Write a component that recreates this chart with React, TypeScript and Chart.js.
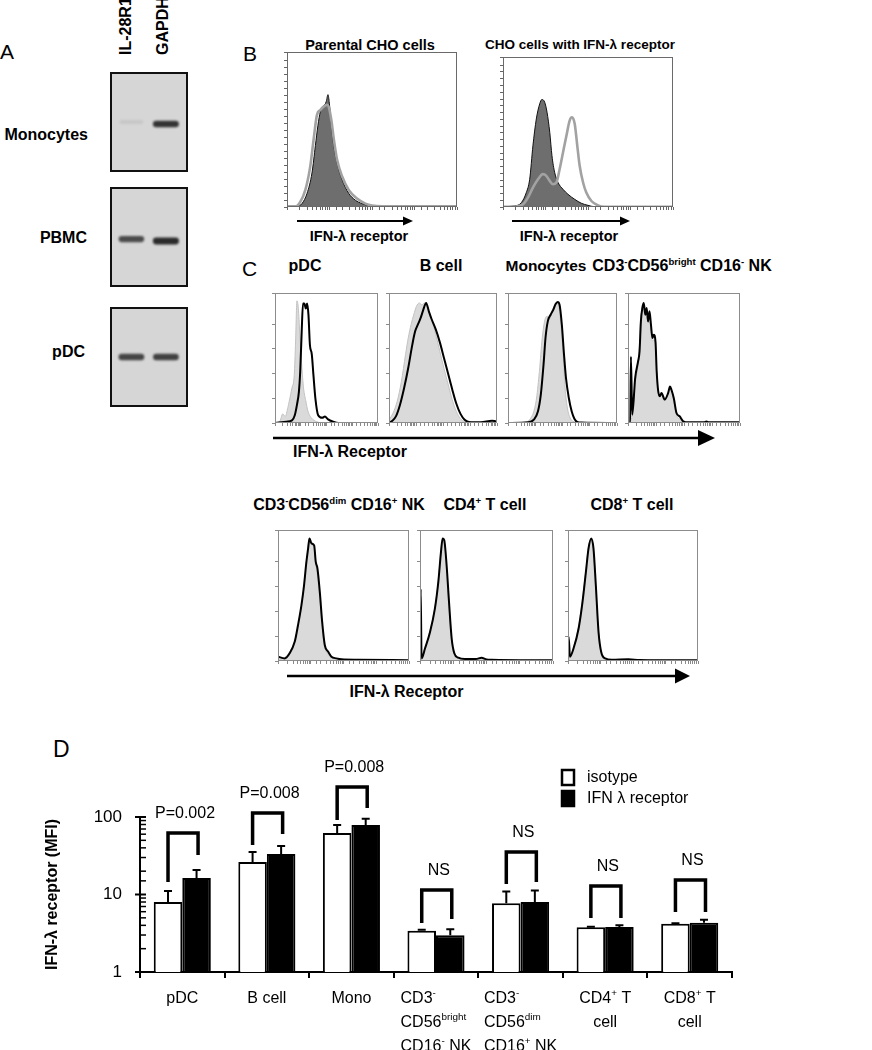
import React, { useEffect, useRef } from "react";
import { Chart, registerables } from "chart.js";
Chart.register(...registerables);

const FONT = 'Arial, "Liberation Sans", Helvetica, sans-serif';
type Pt = [number, number];

// ---------------- Panel A: gel ----------------
const gelSamples = ["Monocytes", "PBMC", "pDC"];
const gelLanes = ["IL-28R1", "GAPDH"];
const gelBandMigration = [[50, 52], [52, 54], [50, 50]];
const gelBandIntensity = [[0.08, 0.88], [0.75, 0.92], [0.78, 0.8]];

// ---------------- Panel B: CHO histograms (x: % of log channel range, y: % of max) ----------------
const parentalIsotype: Pt[] = [[0,0.4],[5.9,0.4],[8.8,2.2],[11.8,8.8],[14.7,22],[16.7,39.6],[18.2,52.7],[19.6,61.5],[21,64.8],[22.2,65.9],[23.1,68.1],[24.1,72.5],[24.9,67],[26.1,52.7],[27.5,39.6],[29.4,28.6],[32.4,17.6],[36.3,8.8],[40.2,4.4],[44.1,2.2],[48,0.9],[55.9,0.4],[100,0.4]];
const parentalReceptor: Pt[] = [[0,0.4],[4.9,0.4],[7.8,3.3],[10.8,11],[13.7,26.4],[15.7,44],[17.6,59.3],[19.6,62.6],[21.6,64.8],[23.5,65.9],[24.5,64.8],[26.1,56],[27.5,44],[29.4,30.8],[32.4,19.8],[36.3,11],[41.2,5.5],[46.1,2.2],[50,0.9],[55.9,0.4],[100,0.4]];
const transfectedIsotype: Pt[] = [[0,0.2],[6.9,0.7],[10.8,2.9],[13.7,9.6],[15.7,18.5],[17.6,40.8],[19.6,58.7],[21.6,68.8],[22.9,71.7],[24.5,69.9],[25.9,63.2],[27.5,49.8],[28.8,34.2],[30.4,23],[32.4,16.3],[35.3,11.8],[38.2,8.5],[42.2,5.1],[46.1,2.5],[50,1.1],[53.9,0.2],[100,0.2]];
const transfectedReceptor: Pt[] = [[0,0.2],[6.9,0.2],[11.8,1.8],[14.7,6.3],[17.6,12.9],[20.6,18.5],[23.5,21.9],[25.5,20.8],[27.5,17.4],[29.4,15.2],[31.4,16.3],[33.3,25.2],[35.3,36.4],[37.3,47.5],[39.2,57.6],[40.6,59.8],[42.2,55.4],[43.7,40.8],[45.1,27.5],[47.1,16.3],[49,9.6],[52,4],[55.9,1.1],[59.8,0.2],[100,0.2]];

// ---------------- Panel C: PBMC subsets ----------------
const pdcIsotype: Pt[] = [[0,0],[4.5,1],[7.5,7],[9.9,5],[12.5,12],[15.2,22],[16.5,27],[18.7,37],[20,63],[21.3,94],[22.7,88],[24,70],[25.9,45],[27.7,27],[29.9,17],[32,9],[35.2,4],[40.5,1],[48.5,0],[100,0]];
const pdcReceptor: Pt[] = [[0,0],[11.2,1],[16.5,2],[19.2,6],[21.3,14],[23.2,24],[24.5,40],[25.9,70],[27.2,92],[28.5,92],[29.9,88],[31.2,92],[32.5,83],[33.9,60],[35.7,53],[37.3,37],[39.2,19],[41.9,6],[45.9,4],[48.5,5],[51.2,3],[56.5,1],[61.9,0],[100,0]];
const bcellIsotype: Pt[] = [[0,2.5],[3.8,7.7],[7.6,16.7],[11.5,32],[15.3,52.6],[17.8,65.4],[20.4,75.6],[22.9,83.3],[25.4,89.7],[28,92.3],[30.5,91],[33.1,92.3],[35.6,88.5],[39.4,80],[43.3,68],[47.1,55],[50.9,42],[54.7,30],[58.5,18],[62.3,9],[66,3.5],[70,1],[75,0.5],[100,0.3]];
const bcellReceptor: Pt[] = [[0,0],[2.5,1.3],[6.4,5.1],[10.2,14.1],[14,26.9],[17.8,42.3],[21.6,60.3],[24.2,70.5],[26.7,75.6],[29.3,80.8],[31.8,87.2],[34.4,92.3],[36.9,85.9],[39.4,80],[43.3,72],[47.1,62],[50.9,50],[54.7,38],[58.5,26],[62.3,15],[66.2,7],[70,2.5],[74,0.8],[85,0.5],[95.4,1.8],[99.2,1.3],[100,0.5]];
const monoIsotype: Pt[] = [[0,0],[15.9,0.5],[19.8,2.6],[23.7,9],[26.2,19.2],[28.8,39.7],[31.4,65.4],[33.9,79.5],[36,82.1],[37.8,79.5],[40.4,85.9],[42.9,91],[44.7,92.3],[46.8,88.5],[48.8,73.1],[50.6,52.6],[52.4,26.9],[54.5,11.5],[57.1,3.8],[59.6,1.3],[64.8,0.3],[100,0]];
const monoReceptor: Pt[] = [[0,0],[18.5,0.5],[23.7,2.6],[27.5,9],[30.1,21.8],[32.6,44.9],[34.4,65.4],[36.5,78.2],[39.1,83.3],[41.6,87.2],[43.7,91.5],[45.5,93.1],[47.3,91],[49.4,75.6],[51.4,52.6],[53.2,34.6],[55.8,19.2],[58.4,9],[60.9,3.3],[63.5,0.8],[67.4,0.3],[100,0]];
const nkBrightIsotype: Pt[] = [[0,0],[2.6,2],[4,8],[6.4,30],[9,45],[10.3,60],[11.5,82],[12.8,86],[14.1,88],[15.4,84],[16.7,86],[17.9,80],[19.2,82],[20.5,72],[21.8,63],[23.1,64],[24.6,58],[25.6,38],[26.9,24],[28.4,21],[29.9,22],[32.8,19],[35.8,22],[37.5,26],[38.8,24],[40.9,17],[43.3,6],[46.3,3],[49.3,1],[53.7,0.3],[100,0.3]];
const nkBrightReceptor: Pt[] = [[0,0],[2,0],[2.6,51],[3.8,6.4],[6.4,34.6],[9,47.4],[10.3,55],[11.5,78],[12.8,88.5],[14.1,92.3],[15.4,83.3],[16.7,88.5],[17.9,78],[19.2,85.9],[20.5,75.6],[21.8,65.4],[23.1,67.9],[24.6,62],[25.6,40],[26.9,25],[28.4,20.5],[29.9,23],[32.8,18],[35.8,23],[37.5,28],[38.8,25.6],[40.9,19],[43.3,7.7],[46.3,5],[49.3,1.3],[53.7,0.5],[68,0.5],[70,1.2],[72,0.5],[100,0.5]];
const nkDimIsotype: Pt[] = [[0,1],[5.1,2.5],[8.9,7],[12.8,15],[15.3,27],[17.9,42],[19.9,57],[21.7,76],[23,88],[24,94],[25.5,91],[27.6,86],[28.8,74],[30.1,66],[31.9,48],[33.7,27],[35.7,11],[38.3,5],[40.8,2.5],[44.6,1.5],[48.5,1],[61.2,0.7],[100,0.3]];
const nkDimReceptor: Pt[] = [[0,3.3],[5.1,2],[8.9,5.9],[12.8,14.8],[15.3,27.5],[17.9,42.7],[19.9,58],[21.7,75.8],[23,86],[24,93.6],[25.5,89.8],[27.6,88.3],[28.8,75.8],[30.1,70.7],[31.9,52.9],[33.7,30],[35.7,12.2],[38.3,7.1],[40.8,3.3],[44.6,2],[48.5,1.3],[61.2,1],[100,0.5]];
const cd4Isotype: Pt[] = [[0,0],[0.5,50],[1.2,3],[3.8,10],[7.5,23],[11.2,41],[13.8,62],[15.8,85],[17,93],[18.2,91],[20,70],[21.8,42],[23.8,15],[25.8,5],[28.8,2],[33.8,1.2],[46.3,1.8],[53.8,0.8],[100,0.3]];
const cd4Receptor: Pt[] = [[0,0],[0.5,55],[1.2,2],[3.8,9.7],[7.5,22],[11.2,40],[13.8,60.6],[15.8,83.5],[17,93.6],[18.2,92.4],[20,73.3],[21.8,45.3],[23.8,17.3],[25.8,5.9],[28.8,2.5],[33.8,1.5],[42,1.5],[46.3,2.5],[50,1.2],[53.8,1],[100,0.5]];
const cd8Isotype: Pt[] = [[0,0],[0.5,17],[1.5,4],[4.3,10.5],[8.2,27],[11.2,48],[13.8,70],[15.8,88],[17.9,93],[19.6,84],[21.4,55],[23.5,20],[25.5,6],[28.6,1.8],[33.7,0.8],[46.4,1],[100,0.3]];
const cd8Receptor: Pt[] = [[0,0],[0.5,18.6],[1.5,3.3],[4.3,9.7],[8.2,25],[11.2,45.3],[13.8,68.2],[15.8,86],[17.9,93.6],[19.6,86],[21.4,58],[23.5,22.1],[25.5,7.1],[28.6,2],[33.7,1],[46.4,1.3],[55,0.8],[100,0.5]];

// ---------------- Panel D: MFI bar chart ----------------
const dCategoryLines = [["pDC"], ["B cell"], ["Mono"], ["CD3^{-}", "CD56^{bright}", "CD16^{-} NK"], ["CD3^{-}", "CD56^{dim}", "CD16^{+} NK"], ["CD4^{+} T", "cell"], ["CD8^{+} T", "cell"]];
const isotypeMFI = [8.0, 26.2, 62.0, 3.41, 7.7, 3.78, 4.2];
const isotypeUpper = [11.1, 35.4, 79.0, 3.5, 10.9, 3.85, 4.25];
const receptorMFI = [16.3, 33.2, 78.9, 2.97, 8.0, 3.8, 4.33];
const receptorUpper = [20.7, 42.4, 95.0, 3.55, 11.3, 4.0, 4.73];
const sigLabels = ["P=0.002", "P=0.008", "P=0.008", "NS", "NS", "NS", "NS"];
const bracketTop = [62.2, 112.6, 244, 11.4, 35.3, 12.9, 15.4];
const bracketLeftEnd = [14.5, 43.5, 91.5, 4.29, 13.7, 4.97, 5.95];
const bracketRightEnd = [32.3, 60.4, 130.7, 4.83, 14.5, 4.97, 5.95];
const yMajorTicks = [1, 10, 100];

// ---------------- helpers ----------------
function CanvasChart({ x, y, w, h, build }: any) {
  const ref = useRef<HTMLCanvasElement | null>(null);
  useEffect(() => {
    const chart = new Chart(ref.current as HTMLCanvasElement, build());
    return () => chart.destroy();
  }, []);
  return <canvas ref={ref} width={w} height={h} style={{ position: "absolute", left: x, top: y, width: w, height: h }} />;
}

function Txt({ x, y, size, bold, align = "center", children }: any) {
  const tx = align === "center" ? "-50%" : align === "right" ? "-100%" : "0";
  return (
    <div style={{ position: "absolute", left: x, top: y, transform: `translate(${tx}, -50%)`, fontSize: size, fontWeight: bold ? 700 : 400, lineHeight: 1, whiteSpace: "nowrap", color: "#000", fontFamily: FONT }}>
      {children}
    </div>
  );
}
const Sup = ({ children }: any) => <span style={{ fontSize: "0.6em", position: "relative", top: "-0.6em" }}>{children}</span>;

function parseRich(text: string) {
  const parts: { t: string; sup: boolean }[] = [];
  const re = /\^\{([^}]*)\}/g;
  let last = 0;
  let m: RegExpExecArray | null;
  while ((m = re.exec(text))) {
    if (m.index > last) parts.push({ t: text.slice(last, m.index), sup: false });
    parts.push({ t: m[1], sup: true });
    last = re.lastIndex;
  }
  if (last < text.length) parts.push({ t: text.slice(last), sup: false });
  return parts;
}
function richWidth(ctx: CanvasRenderingContext2D, text: string, size: number) {
  let w = 0;
  for (const p of parseRich(text)) {
    ctx.font = `${p.sup ? size * 0.62 : size}px ${FONT}`;
    w += ctx.measureText(p.t).width;
  }
  return w;
}
function drawRich(ctx: CanvasRenderingContext2D, text: string, x: number, yc: number, size: number) {
  const base = yc + size * 0.36;
  let cx = x;
  ctx.textBaseline = "alphabetic";
  ctx.textAlign = "left";
  for (const p of parseRich(text)) {
    ctx.font = `${p.sup ? size * 0.62 : size}px ${FONT}`;
    ctx.fillText(p.t, cx, p.sup ? base - size * 0.45 : base);
    cx += ctx.measureText(p.t).width;
  }
}

// ---------------- gel ----------------
const gelPlugin = {
  id: "gel",
  beforeDraw(chart: any) {
    const { ctx, width, height } = chart;
    ctx.save();
    ctx.fillStyle = "#d6d6d6";
    ctx.fillRect(0, 0, width, height);
    ctx.restore();
  },
  beforeDatasetsDraw(chart: any) {
    chart.ctx.save();
    chart.ctx.filter = "blur(1.1px)";
  },
  afterDatasetsDraw(chart: any) {
    chart.ctx.restore();
  },
  afterDraw(chart: any) {
    const { ctx, width, height } = chart;
    ctx.save();
    ctx.strokeStyle = "#111";
    ctx.lineWidth = 2;
    ctx.strokeRect(1, 1, width - 2, height - 2);
    ctx.restore();
  },
};
function gelConfig(sample: number): any {
  return {
    type: "scatter",
    data: {
      datasets: gelLanes.map((lane, li) => ({
        label: lane,
        data: [
          { x: li - 0.28, y: gelBandMigration[sample][li] },
          { x: li + 0.28, y: gelBandMigration[sample][li] },
        ],
        showLine: true,
        borderColor: `rgba(28,28,28,${gelBandIntensity[sample][li]})`,
        borderWidth: 4 + 3 * gelBandIntensity[sample][li],
        borderCapStyle: "round",
        pointRadius: 0,
      })),
    },
    options: {
      responsive: false,
      animation: false,
      devicePixelRatio: 1,
      layout: { padding: 0 },
      plugins: { legend: { display: false }, tooltip: { enabled: false } },
      scales: {
        x: { type: "linear", min: -0.62, max: 1.64, display: false },
        y: { type: "linear", min: 0, max: 100, reverse: true, display: false },
      },
    },
    plugins: [gelPlugin],
  };
}

// ---------------- flow histograms ----------------
const boxPlugin = {
  id: "boxBorder",
  afterDraw(chart: any, _a: any, opts: any) {
    const { ctx, chartArea: a } = chart;
    ctx.save();
    ctx.strokeStyle = opts.color || "#888";
    ctx.lineWidth = 1;
    ctx.strokeRect(a.left + 0.5, a.top + 0.5, a.right - a.left - 1, a.bottom - a.top - 1);
    ctx.restore();
  },
};
function histConfig(under: Pt[], over: Pt[], scheme: "B" | "C"): any {
  const isB = scheme === "B";
  const tickColor = isB ? "#666" : "#8a8a8a";
  return {
    type: "line",
    data: {
      datasets: [
        {
          label: "receptor",
          data: over.map(([x, y]) => ({ x, y })),
          borderColor: isB ? "#a2a2a2" : "#000",
          borderWidth: isB ? 2.6 : 2,
          fill: false,
          pointRadius: 0,
          cubicInterpolationMode: "monotone",
          order: 0,
        },
        {
          label: "isotype",
          data: under.map(([x, y]) => ({ x, y })),
          borderColor: isB ? "#111" : "#c2c2c2",
          backgroundColor: isB ? "#6e6e6e" : "#dadada",
          borderWidth: 1,
          fill: "origin",
          pointRadius: 0,
          cubicInterpolationMode: "monotone",
          order: 1,
        },
      ],
    },
    options: {
      responsive: false,
      animation: false,
      devicePixelRatio: 1,
      layout: { padding: { left: 1, top: 2, right: 2, bottom: 0 } },
      plugins: { legend: { display: false }, tooltip: { enabled: false }, boxBorder: { color: isB ? "#6a6a6a" : "#8c8c8c" } },
      scales: {
        x: { type: "linear", min: 0, max: 100, display: false },
        xl: {
          type: "logarithmic",
          position: "bottom",
          min: 1,
          max: 10000,
          grid: { drawOnChartArea: false, tickLength: 3, color: tickColor, lineWidth: 1 },
          border: { display: false },
          ticks: { display: false, autoSkip: false },
          afterFit: (s: any) => { s.height = 5; },
        },
        y: {
          type: "linear",
          min: 0,
          max: 100,
          ticks: { display: false, stepSize: isB ? 4.5 : 19 },
          grid: { drawOnChartArea: false, tickLength: 3, color: tickColor, lineWidth: 1 },
          border: { display: false },
          afterFit: (s: any) => { s.width = 4; },
        },
      },
    },
    plugins: [boxPlugin],
  };
}
function Hist({ box, under, over, scheme }: any) {
  const [l, t, w, h] = box;
  return <CanvasChart x={l - 5} y={t - 2} w={w + 7} h={h + 7} build={() => histConfig(under, over, scheme)} />;
}

// ---------------- panel D ----------------
const dPlugin = {
  id: "dExtras",
  afterDatasetsDraw(chart: any) {
    const { ctx } = chart;
    const ys = chart.scales.y;
    const m0 = chart.getDatasetMeta(0);
    const m1 = chart.getDatasetMeta(1);
    ctx.save();
    ctx.strokeStyle = "#000";
    ctx.lineWidth = 2;
    const sets: any[] = [[m0, isotypeMFI, isotypeUpper], [m1, receptorMFI, receptorUpper]];
    sets.forEach(([m, v, u]) => {
      m.data.forEach((bar: any, i: number) => {
        const y0 = ys.getPixelForValue(v[i]);
        const y1 = ys.getPixelForValue(u[i]);
        ctx.beginPath();
        ctx.moveTo(bar.x, y0);
        ctx.lineTo(bar.x, y1);
        ctx.moveTo(bar.x - 4, y1);
        ctx.lineTo(bar.x + 4, y1);
        ctx.stroke();
      });
    });
    // significance brackets
    ctx.lineWidth = 3.5;
    ctx.lineJoin = "miter";
    ctx.fillStyle = "#000";
    ctx.font = `16px ${FONT}`;
    ctx.textAlign = "center";
    ctx.textBaseline = "middle";
    for (let i = 0; i < sigLabels.length; i++) {
      const xl = m0.data[i].x;
      const xr = m1.data[i].x + 1.5;
      const yt = ys.getPixelForValue(bracketTop[i]);
      ctx.beginPath();
      ctx.moveTo(xl, ys.getPixelForValue(bracketLeftEnd[i]));
      ctx.lineTo(xl, yt);
      ctx.lineTo(xr, yt);
      ctx.lineTo(xr, ys.getPixelForValue(bracketRightEnd[i]));
      ctx.stroke();
      ctx.fillText(sigLabels[i], (xl + xr) / 2 + 2, yt - 19);
    }
    ctx.restore();
  },
  afterDraw(chart: any) {
    const { ctx, chartArea: a } = chart;
    const ys = chart.scales.y;
    const xs = chart.scales.x;
    ctx.save();
    // log tick marks
    ctx.strokeStyle = "#000";
    ys.ticks.forEach((t: any) => {
      const v = t.value;
      const py = ys.getPixelForValue(v);
      const major = yMajorTicks.includes(v);
      ctx.lineWidth = major ? 2 : 1.5;
      ctx.beginPath();
      ctx.moveTo(major ? a.left - 5 : a.left, py);
      ctx.lineTo(a.left + 6, py);
      ctx.stroke();
    });
    // category labels with superscripts
    ctx.fillStyle = "#000";
    dCategoryLines.forEach((lines, i) => {
      const cx = xs.getPixelForValue(i);
      const widths = lines.map((s) => richWidth(ctx, s, 16));
      const maxW = Math.max(...widths);
      lines.forEach((s, k) => {
        const yc = a.bottom + 25 + k * 24;
        const x0 = lines.length > 2 ? cx - maxW / 2 : cx - widths[k] / 2;
        drawRich(ctx, s, x0, yc, 16);
      });
    });
    // legend
    const lx = a.left + 422;
    const ly = a.top - 47;
    chart.data.datasets.forEach((ds: any, i: number) => {
      const top = ly + i * 21;
      ctx.fillStyle = ds.backgroundColor;
      ctx.fillRect(lx, top, 12, 15);
      ctx.lineWidth = 2.5;
      ctx.strokeStyle = "#000";
      ctx.strokeRect(lx, top, 12, 15);
      ctx.fillStyle = "#000";
      ctx.font = `16px ${FONT}`;
      ctx.textAlign = "left";
      ctx.textBaseline = "middle";
      ctx.fillText(ds.label, lx + 25, top + 7.5);
    });
    ctx.restore();
  },
};
function barConfig(): any {
  return {
    type: "bar",
    data: {
      labels: dCategoryLines.map((l) => l.join(" ").replace(/\^\{([^}]*)\}/g, "$1")),
      datasets: [
        { label: "isotype", data: isotypeMFI, backgroundColor: "#ffffff", borderColor: "#000", borderWidth: 2, categoryPercentage: 0.675, barPercentage: 1 },
        { label: "IFN λ receptor", data: receptorMFI, backgroundColor: "#000000", borderColor: "#000", borderWidth: 2, categoryPercentage: 0.675, barPercentage: 1 },
      ],
    },
    options: {
      responsive: false,
      animation: false,
      devicePixelRatio: 1,
      layout: { padding: { left: 43, top: 117, right: 140, bottom: 0 } },
      plugins: { legend: { display: false }, tooltip: { enabled: false } },
      scales: {
        x: {
          type: "category",
          offset: true,
          grid: { display: true, drawOnChartArea: false, drawTicks: true, tickLength: 6, color: "#000", lineWidth: 2, offset: true },
          border: { display: true, color: "#000", width: 2 },
          ticks: { display: false },
          afterFit: (s: any) => { s.height = 78; },
        },
        y: {
          type: "logarithmic",
          min: 1,
          max: 100,
          grid: { display: false, drawTicks: false },
          border: { display: true, color: "#000", width: 2 },
          ticks: {
            autoSkip: false,
            padding: 18,
            color: "#000",
            font: { family: FONT, size: 17 },
            callback: (v: any) => (yMajorTicks.includes(Number(v)) ? String(v) : ""),
          },
          title: { display: true, text: "IFN-λ receptor (MFI)", color: "#000", font: { family: FONT, size: 16, weight: "bold" }, padding: 0 },
          afterFit: (s: any) => { s.width = 97; },
        },
      },
    },
    plugins: [dPlugin],
  };
}

// ---------------- layout ----------------
const gelBoxes = [[110, 72, 78, 100], [110, 187, 78, 100], [110, 307, 78, 100]];
const gelLabelPos = [[88, 135], [87, 238], [85, 352]];

export default function App() {
  return (
    <div style={{ position: "absolute", left: 0, top: 0, width: 872, height: 1050, background: "#fff", fontFamily: FONT, overflow: "hidden" }}>
      {/* Panel letters */}
      <Txt x={0} y={50.5} size={21} align="left">A</Txt>
      <Txt x={243} y={52.5} size={21} align="left">B</Txt>
      <Txt x={242} y={268} size={21} align="left">C</Txt>
      <Txt x={53} y={748.5} size={23} align="left">D</Txt>

      {/* Panel A */}
      {gelLanes.map((lane, i) => (
        <div key={lane} style={{ position: "absolute", left: i === 0 ? 118 : 154.5, top: 55, transformOrigin: "0 0", transform: "rotate(-90deg)", fontSize: 16, fontWeight: 700, lineHeight: 1, whiteSpace: "nowrap", fontFamily: FONT }}>
          {lane}
        </div>
      ))}
      {gelSamples.map((s, i) => (
        <React.Fragment key={s}>
          <Txt x={gelLabelPos[i][0]} y={gelLabelPos[i][1]} size={16} bold align="right">{s}</Txt>
          <CanvasChart x={gelBoxes[i][0]} y={gelBoxes[i][1]} w={gelBoxes[i][2]} h={gelBoxes[i][3]} build={() => gelConfig(i)} />
        </React.Fragment>
      ))}

      {/* Panel B */}
      <Txt x={370} y={45} size={14.5} bold>Parental CHO cells</Txt>
      <Txt x={580} y={45} size={13.5} bold>CHO cells with IFN-λ receptor</Txt>
      <Hist box={[287, 52, 170, 155]} under={parentalIsotype} over={parentalReceptor} scheme="B" />
      <Hist box={[503, 57, 170, 150]} under={transfectedIsotype} over={transfectedReceptor} scheme="B" />
      <Txt x={359} y={236} size={14.5} bold>IFN-λ receptor</Txt>
      <Txt x={569} y={236} size={14.5} bold>IFN-λ receptor</Txt>

      {/* Panel C row 1 */}
      <Txt x={305} y={266} size={16} bold>pDC</Txt>
      <Txt x={441} y={266} size={16} bold>B cell</Txt>
      <Txt x={546} y={266} size={15.5} bold>Monocytes</Txt>
      <Txt x={682} y={266} size={16} bold>CD3<Sup>-</Sup>CD56<Sup>bright</Sup> CD16<Sup>-</Sup> NK</Txt>
      <Hist box={[275, 293, 103, 130]} under={pdcIsotype} over={pdcReceptor} scheme="C" />
      <Hist box={[389, 293, 108, 130]} under={bcellIsotype} over={bcellReceptor} scheme="C" />
      <Hist box={[508, 293, 109, 130]} under={monoIsotype} over={monoReceptor} scheme="C" />
      <Hist box={[628, 293, 112, 130]} under={nkBrightIsotype} over={nkBrightReceptor} scheme="C" />
      <Txt x={350} y={452} size={16} bold>IFN-λ Receptor</Txt>

      {/* Panel C row 2 */}
      <Txt x={339} y={505} size={16} bold>CD3<Sup>-</Sup>CD56<Sup>dim</Sup> CD16<Sup>+</Sup> NK</Txt>
      <Txt x={485} y={505} size={16} bold>CD4<Sup>+</Sup> T cell</Txt>
      <Txt x={632} y={505} size={16} bold>CD8<Sup>+</Sup> T cell</Txt>
      <Hist box={[278, 530, 131, 131]} under={nkDimIsotype} over={nkDimReceptor} scheme="C" />
      <Hist box={[420, 530, 133, 131]} under={cd4Isotype} over={cd4Receptor} scheme="C" />
      <Hist box={[568, 530, 130, 131]} under={cd8Isotype} over={cd8Receptor} scheme="C" />
      <Txt x={406.5} y={692} size={16} bold>IFN-λ Receptor</Txt>

      {/* arrows */}
      <svg width={872} height={1050} style={{ position: "absolute", left: 0, top: 0, pointerEvents: "none" }}>
        <line x1={297} y1={221} x2={405} y2={221} stroke="#000" strokeWidth={2} />
        <polygon points="403,216.5 413,221 403,225.5" fill="#000" />
        <line x1={512} y1={221} x2={622} y2={221} stroke="#000" strokeWidth={2} />
        <polygon points="620,216.5 630,221 620,225.5" fill="#000" />
        <line x1={273} y1={438} x2={700} y2={438} stroke="#000" strokeWidth={2.5} />
        <polygon points="698,430 715,438 698,446" fill="#000" />
        <line x1={287} y1={676} x2={677} y2={676} stroke="#000" strokeWidth={2.5} />
        <polygon points="675,668.5 690,676 675,683.5" fill="#000" />
      </svg>

      {/* Panel D */}
      <CanvasChart x={0} y={700} w={872} h={350} build={barConfig} />
    </div>
  );
}
